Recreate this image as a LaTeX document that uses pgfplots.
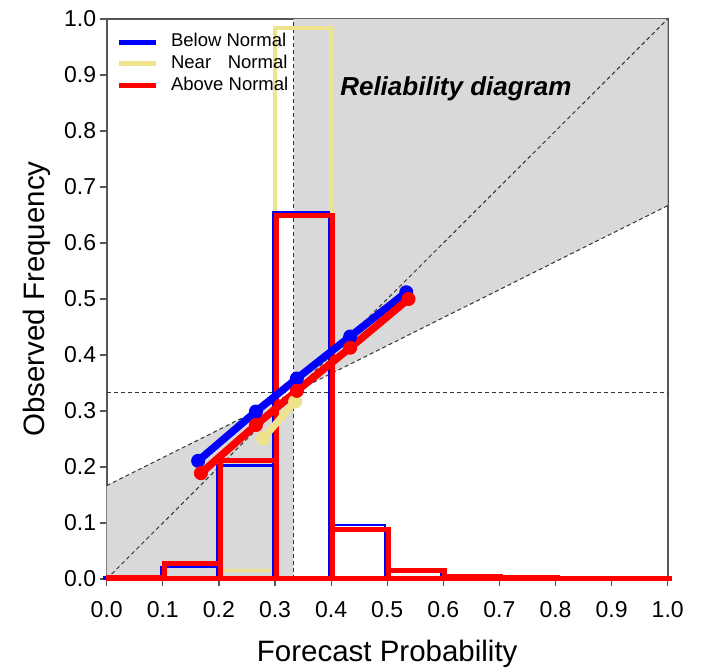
\documentclass[border=0pt]{standalone}
\usepackage{fontspec}
\setmainfont{Liberation Sans}
\usepackage{pgfplots}
\pgfplotsset{compat=1.18}
\definecolor{yel}{RGB}{238,226,140}
\definecolor{shade}{RGB}{217,217,217}
\definecolor{axgray}{RGB}{85,85,85}
\begin{document}
\begin{tikzpicture}[x=1pt,y=1pt]
\useasboundingbox (0,0) rectangle (702,669);
\begin{axis}[
 at={(106.7pt,90pt)}, anchor=south west,
 scale only axis, width=561pt, height=560pt,
 xmin=0, xmax=1, ymin=0, ymax=1,
 clip=false,
 xtick={0,0.1,0.2,0.3,0.4,0.5,0.6,0.7,0.8,0.9,1.0},
 ytick={0,0.1,0.2,0.3,0.4,0.5,0.6,0.7,0.8,0.9,1.0},
 tick align=outside, major tick length=7pt,
 xtick pos=bottom, ytick pos=left,
 tick style={axgray, line width=1.2pt},
 axis line style={axgray, line width=1.8pt},
 ticklabel style={font=\fontsize{23}{23}\selectfont},
 xticklabel style={yshift=-12pt},
 /pgf/number format/fixed, /pgf/number format/fixed zerofill,
 /pgf/number format/precision=1, /pgf/number format/assume math mode=true,
 xlabel={Forecast Probability}, ylabel={Observed Frequency},
 label style={font=\fontsize{29.5}{30}\selectfont},
 xlabel style={at={(axis description cs:0.5,-0.148)}, anchor=base},
 ylabel style={at={(axis description cs:-0.11,0.5)}, anchor=base},
 legend style={draw=none, fill=none, at={(axis description cs:0.011,0.978)}, anchor=north west,
   font=\fontsize{18.5}{18.5}\selectfont, row sep=4.8pt,
   nodes={inner sep=0pt, text height=13pt, text depth=4pt},
   /tikz/every odd column/.append style={column sep=13pt}},
 legend image code/.code={\draw[#1] (0pt,0pt) -- (37pt,0pt);},
 legend cell align=left,
]
\addlegendimage{blue, line width=5pt}
\addlegendentry{Below Normal}
\addlegendimage{yel, line width=5pt}
\addlegendentry{Near\hspace{0.9em}Normal}
\addlegendimage{red, line width=5pt}
\addlegendentry{Above Normal}

% skill region
\addplot[fill=shade, draw=none, forget plot] coordinates {(0,0) (0,0.1667) (0.3333,0.3333) (0.3333,0)} -- cycle;
\addplot[fill=shade, draw=none, forget plot] coordinates {(0.3333,0.3333) (1,0.6667) (1,1) (0.3333,1)} -- cycle;

% reference lines
\addplot[black!80, line width=1pt, dash pattern=on 4pt off 3pt, forget plot] coordinates {(0,0) (1,1)};
\addplot[black!80, line width=1pt, dash pattern=on 4pt off 3pt, forget plot] coordinates {(0,0.1667) (1,0.6667)};
\addplot[black!80, line width=1pt, dash pattern=on 4pt off 3pt, forget plot] coordinates {(0,0.3333) (1,0.3333)};
\addplot[black!80, line width=1pt, dash pattern=on 4pt off 3pt, forget plot] coordinates {(0.3333,0) (0.3333,1)};

% forecast frequency histograms
\addplot[ybar interval, draw=yel, fill=none, line width=3.5pt, forget plot] coordinates {
 (0,0) (0.1,0) (0.2,0.015) (0.3,0.984) (0.4,0) (0.5,0) (0.6,0) (0.7,0) (0.8,0) (0.9,0) (1.0,0)};
\addplot[ybar interval, draw=blue, fill=none, line width=2.5pt, xshift=-2pt, forget plot] coordinates {
 (0,0.003) (0.1,0.021) (0.2,0.203) (0.3,0.655) (0.4,0.096) (0.5,0.018) (0.6,0.004) (0.7,0.002) (0.8,0.001) (0.9,0.001) (1.0,0)};
\addplot[ybar interval, draw=red, fill=none, line width=5pt, xshift=1.5pt, forget plot] coordinates {
 (0,0.003) (0.1,0.028) (0.2,0.212) (0.3,0.649) (0.4,0.089) (0.5,0.015) (0.6,0.005) (0.7,0.002) (0.8,0.001) (0.9,0.001) (1.0,0)};

% reliability curves
\addplot[yel, line width=7pt, mark=*, mark size=6.5pt, mark options={solid, fill=yel, line width=1pt}, forget plot] coordinates {
 (0.279,0.251) (0.336,0.317)};
\addplot[blue, line width=7.5pt, mark=*, mark size=6.5pt, mark options={solid, fill=blue, line width=1pt}, forget plot] coordinates {
 (0.163,0.211) (0.266,0.299) (0.339,0.358) (0.434,0.433) (0.534,0.512)};
\addplot[red, line width=7.5pt, mark=*, mark size=6.5pt, mark options={solid, fill=red, line width=1pt}, forget plot] coordinates {
 (0.168,0.189) (0.266,0.275) (0.339,0.336) (0.434,0.413) (0.538,0.500)};

\node[anchor=base west, inner sep=0pt, font=\fontsize{26}{26}\selectfont\bfseries\itshape] at (axis cs:0.416,0.864) {Reliability diagram};
\end{axis}
\end{tikzpicture}
\end{document}
